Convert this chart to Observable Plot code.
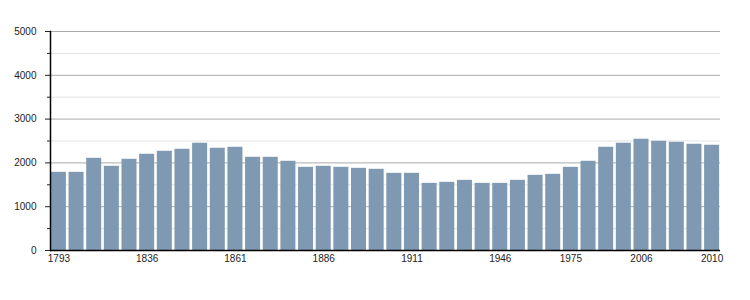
<!DOCTYPE html>
<html>
<head>
<meta charset="utf-8">
<script src="https://cdn.jsdelivr.net/npm/d3@7"></script>
<script src="https://cdn.jsdelivr.net/npm/@observablehq/plot@0.6"></script>
<style>
  body { margin: 0; background: #fff; }
  svg { font-family: "Liberation Sans", Arial, sans-serif; }
</style>
</head>
<body>
<div id="chart"></div>
<script>
const years = ["1793","1800","1806","1821","1831","1836","1841","1846","1851","1856",
  "1861","1866","1872","1876","1881","1886","1891","1896","1901","1906",
  "1911","1921","1926","1931","1936","1946","1954","1962","1968","1975",
  "1982","1990","1999","2006","2007","2008","2009","2010"];
const population = [1785,1785,2105,1922,2082,2197,2265,2311,2449,2334,
  2357,2128,2128,2037,1899,1922,1899,1876,1854,1762,
  1762,1533,1556,1602,1533,1533,1602,1716,1739,1899,
  2037,2357,2449,2540,2494,2471,2426,2403];
const tickYears = ["1793","1836","1861","1886","1911","1946","1975","2006","2010"];
const majorTicks = [0,1000,2000,3000,4000,5000];
const minorTicks = [500,1500,2500,3500,4500];

const data = years.map((y, i) => ({year: y, value: population[i]}));

const chart = Plot.plot({
  width: 750,
  height: 300,
  marginLeft: 50,
  marginRight: 30,
  marginTop: 31,
  marginBottom: 50,
  style: {fontSize: "10px", fontFamily: "Liberation Sans, Arial, sans-serif", color: "#222"},
  x: {type: "band", domain: years, paddingInner: 0.15, paddingOuter: 0.05, align: 0.5, round: false},
  y: {domain: [0, 5000]},
  marks: [
    Plot.ruleY(minorTicks, {stroke: "#e3e3e3", strokeWidth: 1}),
    Plot.ruleY(majorTicks, {stroke: "#aaaaaa", strokeWidth: 1}),
    Plot.barY(data, {x: "year", y: "value", fill: "#7f99b2"}),
    Plot.axisY({ticks: majorTicks, tickSize: 5, tickPadding: 9, label: null, tickFormat: d => String(d)}),
    Plot.axisY({ticks: minorTicks, tickSize: 3, tickFormat: () => "", label: null}),
    Plot.axisX({ticks: tickYears, tickSize: 0, tickPadding: 4, label: null}),
    Plot.ruleY([0], {stroke: "#000", strokeWidth: 1.5}),
    Plot.frame({anchor: "left", stroke: "#000", strokeWidth: 1.5})
  ]
});
document.getElementById("chart").appendChild(chart);
</script>
</body>
</html>
